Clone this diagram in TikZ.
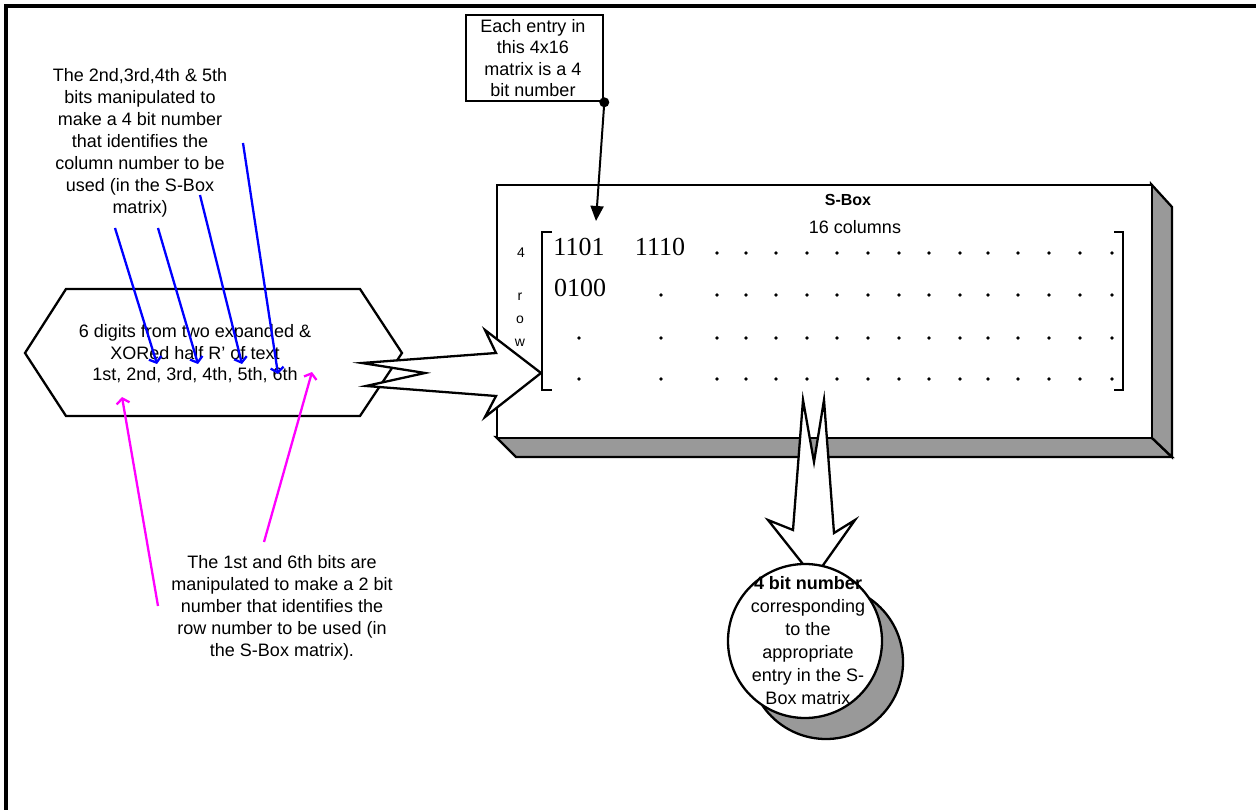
\documentclass[tikz,border=0pt]{standalone}
\usepackage{fontspec}
\setmainfont{Liberation Sans}
\newfontfamily\numfont{Liberation Serif}
\usetikzlibrary{arrows.meta}
\definecolor{shadegray}{RGB}{153,153,153}
\definecolor{pinkline}{RGB}{255,0,255}
\definecolor{blueline}{RGB}{0,0,255}
\tikzset{
  txt/.style={align=center, inner sep=0pt, font=\fontsize{18}{22}\selectfont},
  smalltxt/.style={inner sep=0pt, font=\fontsize{14}{16}\selectfont},
  numtxt/.style={inner sep=0pt, font=\numfont\fontsize{26}{28}\selectfont},
  bluearr/.style={draw=blueline, line width=2.3pt, -{Straight Barb[length=5pt,width=13pt]}},
  magarr/.style={draw=pinkline, line width=2.3pt, -{Straight Barb[length=5pt,width=13pt]}},
  outline/.style={fill=white, draw=black, line width=2.3pt, line join=miter},
  shadeface/.style={fill=shadegray, draw=black, line width=2.3pt, line join=miter},
  mdot/.style={fill=black},
}
\begin{document}
\begin{tikzpicture}[x=1pt,y=-1pt]
\useasboundingbox (0,0) rectangle (1256,810);
% frame
\draw[line width=3.5pt] (6,810) -- (6,6) -- (1256,6);

% S-Box 3D box
\path[shadeface] (496,437) -- (516,457) -- (1172,457) -- (1151,437) -- cycle;
\path[shadeface] (1151,184) -- (1172,207) -- (1172,457) -- (1151,437) -- cycle;
\node[outline, minimum width=655pt, minimum height=253pt, anchor=north west, inner sep=0pt] (sbox) at (496,184) {};
\node[txt, font=\bfseries\fontsize{16}{20}\selectfont] (sboxtitle) at (848,200) {S-Box};
\node[txt] (cols) at (855,227) {16 columns};

% brackets
\draw[line width=1.4pt] (552,232) -- (542,232) -- (542,390) -- (552,390);
\draw[line width=1.4pt] (1114,232) -- (1123,232) -- (1123,390) -- (1114,390);
% row label
\node[smalltxt] (r4) at (521,253) {4};
\node[smalltxt] (rr) at (520,297) {r};
\node[smalltxt] (ro) at (520,320) {o};
\node[smalltxt] (rw) at (520,343) {w};
% entries
\node[numtxt] (e11) at (579,247) {1101};
\node[numtxt] (e12) at (660,247) {1110};
\node[numtxt] (e21) at (580,288) {0100};
% dots
\foreach \x in {717,746,776,807,837,868,899,929,960,988,1018,1049,1080,1112}
  \fill[mdot] (\x,253) circle (1.8);
\foreach \x in {661,717,746,776,807,837,868,899,929,960,988,1018,1049,1080,1112}
  \fill[mdot] (\x,295) circle (1.8);
\foreach \y in {338,379}
  \foreach \x in {579,661,717,746,776,807,837,868,899,929,960,988,1018,1049,1080,1112}
    \fill[mdot] (\x,\y) circle (1.8);

% callout
\node[draw, line width=2.3pt, minimum width=137pt, minimum height=86pt, anchor=north west, inner sep=0pt] (callout) at (465,14) {};
\node[txt, font=\fontsize{18}{21.5}\selectfont] (callouttxt) at (533,58) {Each entry in\\this 4x16\\matrix is a 4\\bit number};
\coordinate (calltip) at (596,221);
\fill (callout.south east) circle (5);
\draw[line width=2pt, -{Triangle[length=15pt,width=13pt]}] (callout.south east) -- (calltip);

% hexagon
\path[outline] (25,353) -- (66,289) -- (360,289) -- (402,353) -- (360,416) -- (66,416) -- cycle;
\node[txt, font=\fontsize{18}{21.5}\selectfont] (hex) at (195,354) {6 digits from two expanded \&\\XORed half R' of text\\1st, 2nd, 3rd, 4th, 5th, 6th};

% notched arrow hexagon -> S-Box
\path[outline] (362,363) -- (496,353) -- (485,330) -- (541,373) -- (485,417) -- (496,396) -- (366,386) -- (425,373) -- cycle;

% notched arrow S-Box -> circle
\path[outline] (803,400) -- (814,462) -- (824,400) -- (834,533) -- (855,520) -- (814,578) -- (768,520) -- (793,530) -- cycle;

% circle with shadow
\fill[shadegray, draw=black, line width=2.3pt] (826,662) circle (77);
\node[outline, circle, minimum size=154pt, inner sep=0pt] (out) at (805,641) {};
\node[txt, font=\fontsize{18}{23}\selectfont] (outtxt) at (808,641) {\textbf{4 bit number}\\corresponding\\to the\\appropriate\\entry in the S-\\Box matrix};

% upper-left text
\node[txt] (coltxt) at (140,143) {The 2nd,3rd,4th \& 5th\\bits manipulated to\\make a 4 bit number\\that identifies the\\column number to be\\used (in the S-Box\\matrix)};
% blue arrows
\coordinate (b1s) at (115,228); \coordinate (b1e) at (157,364);
\coordinate (b2s) at (158,228); \coordinate (b2e) at (198,364);
\coordinate (b3s) at (200,195); \coordinate (b3e) at (242,364);
\coordinate (b4s) at (243,143); \coordinate (b4e) at (278,374);
\draw[bluearr] (b1s) -- (b1e);
\draw[bluearr] (b2s) -- (b2e);
\draw[bluearr] (b3s) -- (b3e);
\draw[bluearr] (b4s) -- (b4e);

% lower text
\node[txt] (rowtxt) at (282,608) {The 1st and 6th bits are\\manipulated to make a 2 bit\\number that identifies the\\row number to be used (in\\the S-Box matrix).};
% magenta arrows
\coordinate (m1s) at (158,606); \coordinate (m1e) at (122,397);
\coordinate (m2s) at (264,542); \coordinate (m2e) at (312,372);
\draw[magarr] (m1s) -- (m1e);
\draw[magarr] (m2s) -- (m2e);
\end{tikzpicture}
\end{document}
